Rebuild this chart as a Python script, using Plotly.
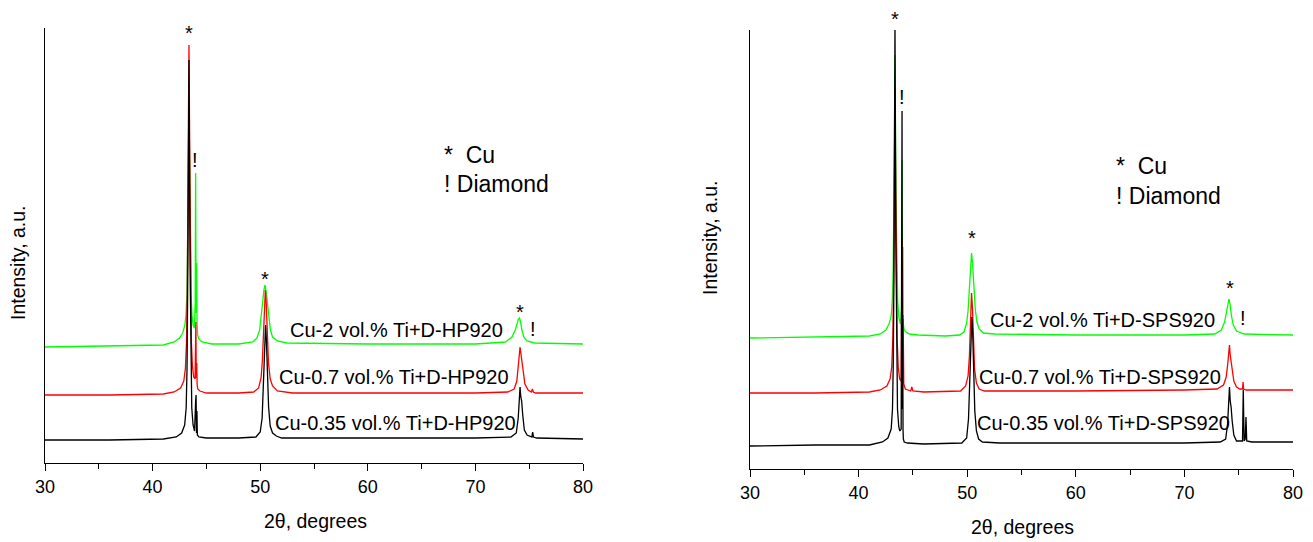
import plotly.graph_objects as go

W, H = 1313, 542
FONT = "Liberation Sans, Arial, sans-serif"

# ---------------- data (2theta in degrees, intensity in a.u.) ----------------
# Left panel: HP920
hp_green_x = [30, 36, 41, 42.0, 42.5, 42.8, 43.0, 43.1, 43.18, 43.25, 43.31, 43.38, 43.45, 43.51, 43.58, 43.66,
              43.76, 43.88, 43.96, 44.0, 44.04, 44.09, 44.13, 44.18, 44.3, 44.6, 45.5, 48, 49.3, 49.7, 49.95,
              50.1, 50.22, 50.34, 50.45, 50.56, 50.68, 50.8, 50.95, 51.15, 51.6, 52.5, 60, 70, 72.8, 73.4,
              73.7, 73.9, 74.0, 74.1, 74.2, 74.32, 74.5, 74.8, 75.5, 80]
hp_green_y = [116, 117, 118, 121, 125, 130, 138, 148, 168, 215, 290, 360, 290, 215, 168, 148,
              138, 135, 160, 290, 150, 200, 140, 128, 124, 121, 119, 119, 121, 125, 133,
              145, 160, 173, 178, 171, 158, 145, 133, 126, 122, 120, 119, 119, 121, 126,
              133, 140, 144, 145, 141, 133, 126, 122, 120, 119]

hp_red_x = [30, 36, 41, 42.0, 42.6, 42.9, 43.05, 43.15, 43.22, 43.29, 43.38, 43.47, 43.54, 43.61, 43.7,
            43.82, 43.95, 44.02, 44.06, 44.1, 44.14, 44.2, 44.4, 45, 48, 49.4, 49.85, 50.08, 50.2, 50.32,
            50.4, 50.48, 50.56, 50.65, 50.77, 50.93, 51.15, 51.6, 53, 60, 70, 73.0, 73.6, 73.85,
            74.0, 74.08, 74.15, 74.22, 74.3, 74.42, 74.6, 74.9, 75.2, 75.3, 75.38, 75.6, 80]
hp_red_y = [68, 68, 69, 71, 75, 82, 95, 120, 170, 280, 418, 280, 170, 120, 97,
            86, 84, 141, 85, 100, 78, 74, 72, 70, 70, 71, 75, 85, 102, 135,
            162, 173, 160, 128, 100, 84, 77, 72, 70, 70, 70, 71, 74, 82,
            95, 108, 116, 110, 101, 89, 79, 73, 71, 74, 71, 70, 70]

hp_black_x = [30, 36, 41, 42.2, 42.7, 42.98, 43.12, 43.2, 43.28, 43.38, 43.48, 43.56, 43.64, 43.76, 43.9,
              44.0, 44.04, 44.08, 44.12, 44.16, 44.3, 45, 48, 49.6, 50.0, 50.18, 50.3, 50.4, 50.5,
              50.58, 50.67, 50.78, 50.93, 51.15, 51.5, 52, 60, 70, 73.3, 73.8, 73.98, 74.08, 74.15, 74.22,
              74.3, 74.4, 74.55, 74.8, 75.25, 75.32, 75.4, 75.7, 80]
hp_black_y = [23, 23, 24, 26, 30, 38, 55, 95, 200, 403, 200, 95, 55, 38, 32,
              62, 68, 30, 52, 28, 26, 25, 25, 26, 31, 45, 75, 112, 138,
              122, 88, 56, 37, 30, 27, 25, 25, 25, 26, 30, 45, 68, 76, 66,
              62, 48, 33, 28, 26, 31, 26, 25, 24]

# Right panel: SPS920
sps_green_x = [30, 36, 41, 42.0, 42.5, 42.8, 43.0, 43.1, 43.18, 43.26, 43.35, 43.44, 43.52, 43.6, 43.7,
               43.85, 43.96, 44.0, 44.04, 44.08, 44.12, 44.18, 44.35, 44.7, 45.5, 48, 49.3, 49.7, 49.95,
               50.08, 50.2, 50.3, 50.4, 50.5, 50.62, 50.74, 50.9, 51.1, 51.5, 52.5, 60, 70, 72.8,
               73.4, 73.7, 73.9, 74.02, 74.1, 74.2, 74.32, 74.5, 74.8, 75.5, 80]
sps_green_y = [131, 132, 133, 135, 139, 145, 153, 168, 200, 270, 414, 270, 200, 168, 152,
               145, 160, 309, 150, 222, 145, 140, 137, 135, 134, 133, 134, 137, 146,
               158, 180, 203, 216, 205, 180, 160, 147, 140, 136, 135, 134, 134, 135,
               139, 147, 158, 167, 170, 165, 154, 144, 138, 135, 134]

sps_red_x = [30, 36, 41, 42.0, 42.6, 42.9, 43.05, 43.15, 43.23, 43.29, 43.35, 43.41, 43.47, 43.55, 43.65,
             43.78, 43.92, 44.0, 44.05, 44.1, 44.16, 44.3, 44.8, 44.9, 45.0, 46, 49.4, 49.85, 50.08,
             50.2, 50.3, 50.4, 50.48, 50.57, 50.68, 50.85, 51.1, 51.6, 53, 60, 70, 73.0, 73.6, 73.85,
             74.0, 74.08, 74.15, 74.22, 74.3, 74.4, 74.55, 74.8, 75.1, 75.35, 75.4, 75.45, 75.7, 80]
sps_red_y = [76, 76, 77, 79, 83, 90, 102, 130, 190, 280, 380, 280, 190, 130, 102,
             90, 88, 230, 95, 150, 85, 80, 78, 82, 78, 77, 78, 83, 93,
             112, 145, 176, 162, 128, 100, 86, 80, 78, 78, 78, 79, 80, 84, 92,
             106, 118, 124, 114, 107, 98, 88, 82, 80, 80, 87, 80, 79, 79]

sps_black_x = [30, 36, 41, 42.2, 42.7, 43.0, 43.12, 43.2, 43.27, 43.35, 43.43, 43.5, 43.58, 43.7,
               43.8, 43.92, 43.97, 44.0, 44.03, 44.06, 44.09, 44.12, 44.2, 44.5, 46, 49.5, 49.95, 50.12,
               50.25, 50.35, 50.43, 50.51, 50.6, 50.7, 50.85, 51.05, 51.4, 53, 60, 70, 73.3, 73.8, 73.98,
               74.08, 74.15, 74.22, 74.3, 74.4, 74.55, 74.8, 75.35, 75.42, 75.5, 75.6, 75.67, 75.74,
               76.2, 80]
sps_black_y = [23, 24, 24, 27, 31, 40, 60, 110, 230, 445, 230, 110, 60, 42,
               38, 40, 150, 358, 60, 154, 40, 30, 27, 26, 25, 26, 31, 50,
               90, 135, 152, 135, 95, 58, 38, 30, 27, 26, 26, 26, 27, 30, 45,
               72, 82, 68, 62, 48, 34, 28, 28, 79, 28, 30, 52, 28,
               27, 27]

hp_labels = ["Cu-2 vol.% Ti+D-HP920", "Cu-0.7 vol.% Ti+D-HP920", "Cu-0.35 vol.% Ti+D-HP920"]
sps_labels = ["Cu-2 vol.% Ti+D-SPS920", "Cu-0.7 vol.% Ti+D-SPS920", "Cu-0.35 vol.% Ti+D-SPS920"]
key_labels = ["*  Cu", "! Diamond"]
x_ticks = [30, 40, 50, 60, 70, 80]

# ---------------- figure ----------------
GREEN, RED, BLACK = "#00FF00", "#FF0000", "#000000"

fig = go.Figure()
for xs, ys, col in [(hp_green_x, hp_green_y, GREEN), (hp_red_x, hp_red_y, RED), (hp_black_x, hp_black_y, BLACK)]:
    fig.add_trace(go.Scatter(x=xs, y=ys, mode="lines", line=dict(color=col, width=1.3),
                             xaxis="x", yaxis="y", showlegend=False, hoverinfo="skip"))
for xs, ys, col in [(sps_green_x, sps_green_y, GREEN), (sps_red_x, sps_red_y, RED), (sps_black_x, sps_black_y, BLACK)]:
    fig.add_trace(go.Scatter(x=xs, y=ys, mode="lines", line=dict(color=col, width=1.3),
                             xaxis="x2", yaxis="y2", showlegend=False, hoverinfo="skip"))


def px(x):
    return x / W


def py(y):
    return 1 - y / H


xax = dict(range=[30, 80], tickmode="array", tickvals=x_ticks, ticks="outside", ticklen=7, tickwidth=1.3,
           tickcolor="black", showline=True, linecolor="black", linewidth=1.3, showgrid=False, zeroline=False,
           automargin=False,
           tickfont=dict(family=FONT, size=18, color="black"),
           minor=dict(dtick=5, tick0=30, ticks="outside", ticklen=5, tickwidth=1.3, tickcolor="black", showgrid=False))
yax = dict(showline=True, linecolor="black", linewidth=1.3, showgrid=False, zeroline=False,
           showticklabels=False, ticks="", automargin=False)

fig.update_layout(
    width=W, height=H, autosize=False, margin=dict(l=0, r=0, t=0, b=0, pad=0),
    paper_bgcolor="white", plot_bgcolor="white",
    xaxis=dict(xax, domain=[px(45), px(583)], anchor="y"),
    yaxis=dict(yax, domain=[py(463), py(28)], range=[0, 435], anchor="x"),
    xaxis2=dict(xax, domain=[px(750), px(1293)], anchor="y2"),
    yaxis2=dict(yax, domain=[py(469), py(30)], range=[0, 439], anchor="x2"),
)

ann = []


def text(x, y, s, size, xanchor="center", angle=0):
    ann.append(dict(x=px(x), y=py(y), xref="paper", yref="paper", text=s, showarrow=False,
                    xanchor=xanchor, yanchor="middle", textangle=angle,
                    font=dict(family=FONT, size=size, color="black")))


# axis titles
text(315, 521, "2θ, degrees", 19.5)
text(1022, 527, "2θ, degrees", 19.5)
text(18, 263, "Intensity, a.u.", 19.5, angle=-90)
text(710, 238, "Intensity, a.u.", 19.5, angle=-90)

# sample labels
for s, (x, y) in zip(hp_labels, [(397, 330), (394, 377), (395, 423)]):
    text(x, y, s, 20)
for s, (x, y) in zip(sps_labels, [(1102, 320), (1100, 377), (1103, 423)]):
    text(x, y, s, 20)

# key
text(442, 155, key_labels[0], 23, xanchor="left")
text(442, 184, key_labels[1], 23, xanchor="left")
text(1114, 166, key_labels[0], 23, xanchor="left")
text(1114, 196, key_labels[1], 23, xanchor="left")

# peak markers
for (x, y) in [(189, 33), (265, 279), (520, 312)]:
    text(x, y, "*", 20)
for (x, y) in [(195, 160), (533, 329)]:
    text(x, y, "!", 20)
for (x, y) in [(895, 19), (972, 238), (1230, 288)]:
    text(x, y, "*", 20)
for (x, y) in [(902, 97), (1243, 318)]:
    text(x, y, "!", 20)

fig.update_layout(annotations=ann)
fig.write_html("out.html", config={"responsive": False})
